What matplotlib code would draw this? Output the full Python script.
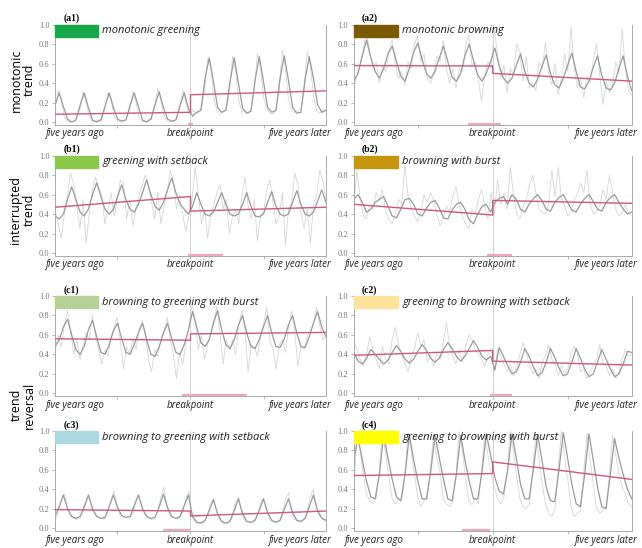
import numpy as np
import matplotlib
matplotlib.use('Agg')
import matplotlib.pyplot as plt
from matplotlib.patches import Rectangle

# smoothed seasonal curves (6 samples per season, 11 seasons)
smooth_a1 = [0.17, 0.30, 0.16, 0.03, 0.00, 0.02, 0.17, 0.30, 0.15, 0.02, 0.00, 0.02,
             0.16, 0.30, 0.15, 0.03, 0.01, 0.02, 0.17, 0.30, 0.16, 0.02, 0.00, 0.03,
             0.18, 0.31, 0.15, 0.03, 0.01, 0.02, 0.17, 0.30, 0.14, 0.06, 0.10, 0.12,
             0.45, 0.66, 0.42, 0.15, 0.10, 0.12, 0.42, 0.66, 0.40, 0.14, 0.09, 0.11,
             0.43, 0.67, 0.42, 0.15, 0.10, 0.12, 0.45, 0.68, 0.43, 0.15, 0.09, 0.10,
             0.44, 0.67, 0.45, 0.18, 0.10, 0.12]
smooth_a2 = [0.42, 0.50, 0.68, 0.84, 0.66, 0.52, 0.45, 0.55, 0.70, 0.78, 0.62, 0.47,
             0.42, 0.55, 0.72, 0.81, 0.64, 0.50, 0.45, 0.52, 0.66, 0.78, 0.62, 0.46,
             0.42, 0.50, 0.68, 0.80, 0.63, 0.48, 0.42, 0.50, 0.62, 0.76, 0.58, 0.45,
             0.40, 0.45, 0.58, 0.70, 0.52, 0.40, 0.36, 0.44, 0.57, 0.69, 0.50, 0.38,
             0.35, 0.45, 0.58, 0.71, 0.52, 0.36, 0.34, 0.42, 0.56, 0.68, 0.48, 0.35,
             0.33, 0.40, 0.55, 0.68, 0.47, 0.32]
smooth_b1 = [0.38, 0.35, 0.40, 0.55, 0.68, 0.55, 0.42, 0.38, 0.45, 0.60, 0.72, 0.58,
             0.45, 0.40, 0.45, 0.58, 0.70, 0.55, 0.45, 0.42, 0.50, 0.62, 0.75, 0.60,
             0.48, 0.44, 0.52, 0.65, 0.77, 0.62, 0.50, 0.45, 0.40, 0.48, 0.62, 0.50,
             0.40, 0.38, 0.42, 0.52, 0.62, 0.50, 0.40, 0.38, 0.40, 0.50, 0.62, 0.48,
             0.38, 0.37, 0.40, 0.52, 0.63, 0.48, 0.40, 0.38, 0.40, 0.52, 0.64, 0.50,
             0.40, 0.38, 0.42, 0.53, 0.65, 0.52]
smooth_b2 = [0.55, 0.60, 0.52, 0.42, 0.45, 0.52, 0.55, 0.58, 0.48, 0.38, 0.36, 0.45,
             0.55, 0.56, 0.50, 0.40, 0.38, 0.46, 0.52, 0.54, 0.46, 0.36, 0.35, 0.44,
             0.50, 0.52, 0.45, 0.34, 0.30, 0.40, 0.48, 0.50, 0.42, 0.52, 0.56, 0.58,
             0.50, 0.60, 0.55, 0.45, 0.42, 0.50, 0.56, 0.60, 0.54, 0.45, 0.43, 0.52,
             0.57, 0.60, 0.52, 0.44, 0.42, 0.50, 0.56, 0.60, 0.53, 0.45, 0.43, 0.52,
             0.57, 0.60, 0.52, 0.45, 0.40, 0.42]
smooth_c1 = [0.48, 0.55, 0.68, 0.76, 0.60, 0.45, 0.40, 0.48, 0.65, 0.75, 0.58, 0.42,
             0.40, 0.50, 0.64, 0.72, 0.56, 0.42, 0.40, 0.50, 0.62, 0.72, 0.55, 0.40,
             0.38, 0.48, 0.62, 0.72, 0.56, 0.42, 0.40, 0.50, 0.65, 0.84, 0.68, 0.52,
             0.48, 0.55, 0.72, 0.85, 0.65, 0.50, 0.46, 0.55, 0.70, 0.80, 0.62, 0.48,
             0.46, 0.55, 0.68, 0.80, 0.62, 0.48, 0.47, 0.56, 0.70, 0.80, 0.62, 0.48,
             0.47, 0.58, 0.72, 0.84, 0.68, 0.58]
smooth_c2 = [0.42, 0.33, 0.30, 0.36, 0.45, 0.40, 0.35, 0.30, 0.34, 0.42, 0.49, 0.43,
             0.35, 0.31, 0.35, 0.43, 0.50, 0.44, 0.36, 0.32, 0.36, 0.45, 0.52, 0.46,
             0.38, 0.33, 0.38, 0.46, 0.54, 0.47, 0.38, 0.34, 0.38, 0.24, 0.47, 0.38,
             0.28, 0.20, 0.22, 0.32, 0.46, 0.38, 0.27, 0.18, 0.21, 0.32, 0.46, 0.37,
             0.26, 0.18, 0.20, 0.32, 0.46, 0.36, 0.25, 0.17, 0.20, 0.32, 0.45, 0.35,
             0.25, 0.17, 0.20, 0.30, 0.43, 0.42]
smooth_c3 = [0.12, 0.22, 0.34, 0.20, 0.12, 0.10, 0.12, 0.22, 0.34, 0.20, 0.12, 0.10,
             0.11, 0.22, 0.34, 0.21, 0.13, 0.11, 0.12, 0.23, 0.34, 0.20, 0.12, 0.10,
             0.11, 0.22, 0.35, 0.21, 0.12, 0.10, 0.12, 0.23, 0.34, 0.12, 0.06, 0.05,
             0.08, 0.18, 0.29, 0.15, 0.07, 0.05, 0.07, 0.18, 0.30, 0.15, 0.07, 0.06,
             0.08, 0.18, 0.30, 0.16, 0.08, 0.06, 0.08, 0.19, 0.30, 0.16, 0.08, 0.07,
             0.10, 0.22, 0.34, 0.18, 0.10, 0.08]
smooth_c4 = [0.70, 0.93, 0.70, 0.48, 0.32, 0.30, 0.55, 0.96, 0.72, 0.50, 0.32, 0.28,
             0.55, 0.96, 0.70, 0.48, 0.30, 0.30, 0.58, 0.95, 0.72, 0.50, 0.30, 0.28,
             0.55, 0.95, 0.70, 0.48, 0.30, 0.30, 0.58, 0.97, 0.75, 0.52, 0.38, 0.35,
             0.60, 0.97, 0.72, 0.45, 0.30, 0.30, 0.60, 0.96, 0.70, 0.42, 0.28, 0.27,
             0.60, 0.98, 0.72, 0.45, 0.25, 0.22, 0.55, 0.97, 0.70, 0.42, 0.22, 0.20,
             0.55, 0.92, 0.72, 0.55, 0.40, 0.30]

# raw observations (8 samples per season)
raw_a1 = [0.15, 0.33, 0.22, 0.05, 0.01, 0.00, 0.01, 0.04, 0.13, 0.31, 0.20, 0.06, 0.00, 0.01, 0.02, 0.03,
          0.14, 0.30, 0.23, 0.05, 0.02, 0.00, 0.01, 0.04, 0.12, 0.31, 0.21, 0.04, 0.01, 0.00, 0.02, 0.03,
          0.15, 0.35, 0.22, 0.06, 0.01, 0.00, 0.01, 0.04, 0.13, 0.33, 0.20, 0.08, 0.12, 0.10, 0.09, 0.14,
          0.32, 0.65, 0.56, 0.24, 0.12, 0.08, 0.11, 0.13, 0.30, 0.67, 0.52, 0.22, 0.10, 0.12, 0.09, 0.14,
          0.33, 0.70, 0.55, 0.25, 0.13, 0.09, 0.08, 0.12, 0.35, 0.74, 0.54, 0.22, 0.11, 0.10, 0.12, 0.14,
          0.34, 0.72, 0.58, 0.27, 0.12, 0.09, 0.12, 0.13]
raw_a2 = [0.35, 0.48, 0.60, 0.75, 0.92, 0.72, 0.55, 0.62, 0.40, 0.58, 0.52, 0.72, 0.85, 0.60, 0.45, 0.52,
          0.38, 0.62, 0.55, 0.80, 0.88, 0.62, 0.70, 0.45, 0.40, 0.48, 0.68, 0.62, 0.84, 0.55, 0.40, 0.55,
          0.35, 0.55, 0.52, 0.78, 0.90, 0.58, 0.62, 0.42, 0.22, 0.48, 0.62, 0.55, 0.95, 0.70, 0.45, 0.58,
          0.30, 0.55, 0.48, 0.80, 0.72, 0.42, 0.68, 0.35, 0.40, 0.32, 0.62, 0.55, 0.82, 0.50, 0.38, 0.60,
          0.28, 0.45, 0.70, 0.52, 0.98, 0.55, 0.35, 0.45, 0.25, 0.48, 0.40, 0.65, 0.80, 0.48, 0.18, 0.42,
          0.30, 0.38, 0.62, 0.50, 0.95, 0.55, 0.32, 0.28]
raw_b1 = [0.45, 0.30, 0.15, 0.40, 0.60, 0.82, 0.70, 0.48, 0.25, 0.55, 0.10, 0.40, 0.65, 0.78, 0.68, 0.60,
          0.30, 0.45, 0.62, 0.38, 0.55, 0.75, 0.72, 0.35, 0.55, 0.28, 0.45, 0.60, 0.70, 0.80, 0.68, 0.52,
          0.35, 0.62, 0.30, 0.48, 0.62, 0.85, 0.75, 0.45, 0.60, 0.40, 0.22, 0.38, 0.55, 0.88, 0.62, 0.30,
          0.45, 0.15, 0.40, 0.50, 0.62, 0.70, 0.45, 0.55, 0.20, 0.38, 0.45, 0.30, 0.58, 0.78, 0.48, 0.35,
          0.55, 0.12, 0.40, 0.42, 0.65, 0.75, 0.52, 0.30, 0.38, 0.62, 0.08, 0.45, 0.52, 0.82, 0.70, 0.40,
          0.25, 0.45, 0.10, 0.50, 0.60, 0.85, 0.75, 0.55]
raw_b2 = [0.48, 0.85, 0.55, 0.38, 0.35, 0.50, 0.45, 0.62, 0.55, 0.65, 0.42, 0.35, 0.30, 0.40, 0.55, 0.50,
          0.90, 0.58, 0.45, 0.38, 0.32, 0.42, 0.60, 0.52, 0.62, 0.55, 0.40, 0.28, 0.35, 0.48, 0.42, 0.58,
          0.68, 0.50, 0.38, 0.30, 0.25, 0.45, 0.40, 0.55, 0.65, 0.48, 0.35, 0.62, 0.40, 0.75, 0.50, 0.62,
          0.45, 0.88, 0.60, 0.40, 0.35, 0.48, 0.55, 0.70, 0.80, 0.62, 0.45, 0.42, 0.40, 0.50, 0.85, 0.58,
          0.88, 0.55, 0.48, 0.38, 0.42, 0.55, 0.60, 0.72, 0.62, 0.85, 0.50, 0.40, 0.42, 0.48, 0.65, 0.55,
          0.80, 0.62, 0.45, 0.38, 0.42, 0.50, 0.40, 0.38]
raw_c1 = [0.42, 0.60, 0.48, 0.70, 0.85, 0.65, 0.40, 0.55, 0.35, 0.48, 0.62, 0.55, 0.80, 0.58, 0.45, 0.30,
          0.45, 0.38, 0.58, 0.68, 0.78, 0.52, 0.25, 0.48, 0.40, 0.55, 0.45, 0.65, 0.75, 0.62, 0.35, 0.22,
          0.45, 0.38, 0.55, 0.62, 0.78, 0.55, 0.40, 0.15, 0.42, 0.30, 0.50, 0.68, 0.92, 0.75, 0.45, 0.60,
          0.35, 0.50, 0.62, 0.75, 0.90, 0.60, 0.30, 0.55, 0.45, 0.55, 0.40, 0.70, 0.85, 0.65, 0.22, 0.50,
          0.48, 0.38, 0.60, 0.72, 0.88, 0.55, 0.45, 0.25, 0.50, 0.55, 0.42, 0.68, 0.85, 0.62, 0.28, 0.48,
          0.45, 0.58, 0.65, 0.72, 0.88, 0.70, 0.55, 0.60]
raw_c2 = [0.55, 0.45, 0.35, 0.28, 0.40, 0.58, 0.45, 0.35, 0.25, 0.48, 0.35, 0.30, 0.55, 0.68, 0.50, 0.40,
          0.30, 0.22, 0.38, 0.45, 0.62, 0.48, 0.55, 0.32, 0.40, 0.28, 0.42, 0.35, 0.52, 0.72, 0.50, 0.38,
          0.30, 0.45, 0.32, 0.48, 0.60, 0.55, 0.45, 0.40, 0.35, 0.28, 0.40, 0.45, 0.22, 0.45, 0.38, 0.30,
          0.22, 0.30, 0.18, 0.28, 0.40, 0.52, 0.40, 0.28, 0.20, 0.25, 0.15, 0.32, 0.38, 0.50, 0.35, 0.30,
          0.18, 0.28, 0.20, 0.25, 0.42, 0.48, 0.42, 0.22, 0.25, 0.15, 0.22, 0.30, 0.35, 0.50, 0.30, 0.28,
          0.18, 0.25, 0.15, 0.22, 0.35, 0.45, 0.38, 0.40]
raw_c3 = [0.08, 0.15, 0.28, 0.35, 0.20, 0.12, 0.10, 0.09, 0.10, 0.16, 0.27, 0.33, 0.18, 0.13, 0.11, 0.10,
          0.09, 0.18, 0.30, 0.38, 0.22, 0.12, 0.10, 0.11, 0.10, 0.15, 0.28, 0.34, 0.19, 0.13, 0.10, 0.09,
          0.09, 0.17, 0.32, 0.42, 0.21, 0.12, 0.11, 0.10, 0.10, 0.16, 0.30, 0.38, 0.12, 0.07, 0.05, 0.06,
          0.06, 0.14, 0.26, 0.30, 0.16, 0.08, 0.05, 0.05, 0.06, 0.15, 0.27, 0.32, 0.15, 0.07, 0.06, 0.05,
          0.07, 0.14, 0.26, 0.31, 0.17, 0.08, 0.06, 0.06, 0.07, 0.16, 0.30, 0.36, 0.16, 0.09, 0.07, 0.06,
          0.08, 0.18, 0.32, 0.40, 0.20, 0.12, 0.09, 0.08]
raw_c4 = [0.35, 0.98, 0.80, 0.55, 0.35, 0.28, 0.25, 0.30, 0.60, 1.00, 0.75, 0.52, 0.30, 0.25, 0.30, 0.28,
          0.55, 0.98, 0.78, 0.55, 0.32, 0.22, 0.28, 0.30, 0.62, 0.95, 0.72, 0.58, 0.30, 0.25, 0.22, 0.28,
          0.55, 0.99, 0.80, 0.50, 0.28, 0.24, 0.30, 0.25, 0.60, 0.96, 0.75, 0.55, 0.42, 0.30, 0.25, 0.32,
          0.55, 1.00, 0.78, 0.52, 0.30, 0.22, 0.20, 0.25, 0.60, 0.98, 0.70, 0.45, 0.25, 0.15, 0.12, 0.20,
          0.62, 1.00, 0.72, 0.50, 0.22, 0.12, 0.15, 0.18, 0.58, 0.97, 0.70, 0.45, 0.20, 0.15, 0.18, 0.22,
          0.55, 0.95, 0.75, 0.55, 0.42, 0.35, 0.25, 0.22]

# fitted trend: start / end before breakpoint, start / end after breakpoint
trend_a1 = [0.08, 0.10, 0.28, 0.32]
trend_a2 = [0.58, 0.575, 0.50, 0.42]
trend_b1 = [0.47, 0.58, 0.43, 0.47]
trend_b2 = [0.50, 0.39, 0.54, 0.51]
trend_c1 = [0.56, 0.545, 0.61, 0.625]
trend_c2 = [0.39, 0.44, 0.33, 0.29]
trend_c3 = [0.19, 0.175, 0.125, 0.175]
trend_c4 = [0.54, 0.56, 0.68, 0.50]

# breakpoint confidence interval (fraction of the time span)
ci_a1 = [0.49, 0.51]
ci_a2 = [0.41, 0.53]
ci_b1 = [0.49, 0.62]
ci_b2 = [0.48, 0.57]
ci_c1 = [0.47, 0.71]
ci_c2 = [0.49, 0.57]
ci_c3 = [0.40, 0.50]
ci_c4 = [0.39, 0.49]

tags = ['(a1)', '(a2)', '(b1)', '(b2)', '(c1)', '(c2)', '(c3)', '(c4)']
titles = ['monotonic greening', 'monotonic browning', 'greening with setback', 'browning with burst',
          'browning to greening with burst', 'greening to browning with setback',
          'browning to greening with setback', 'greening to browning with burst']
box_colors = ['#16a74a', '#7b5a06', '#8cc84b', '#c8960c', '#b6d195', '#fde39a', '#add8e2', '#ffff00']
row_names = ['monotonic\ntrend', 'interrupted\ntrend', 'trend\nreversal']
row_y = [80, 210, 405]

smooths = [smooth_a1, smooth_a2, smooth_b1, smooth_b2, smooth_c1, smooth_c2, smooth_c3, smooth_c4]
raws = [raw_a1, raw_a2, raw_b1, raw_b2, raw_c1, raw_c2, raw_c3, raw_c4]
trends = [trend_a1, trend_a2, trend_b1, trend_b2, trend_c1, trend_c2, trend_c3, trend_c4]
cis = [ci_a1, ci_a2, ci_b1, ci_b2, ci_c1, ci_c2, ci_c3, ci_c4]

fig = plt.figure(figsize=(6.42, 5.48), dpi=100)

lefts = [0.0857, 0.551]
widths = [0.422, 0.433]
bottoms = [0.772, 0.533, 0.277, 0.031]
height = 0.183

for i in range(8):
    r, c = i // 2, i % 2
    ax = fig.add_axes([lefts[c], bottoms[r], widths[c], height])
    xs = np.linspace(0, 1, len(smooths[i]))
    xr = np.linspace(0, 1, len(raws[i]))
    ax.plot(xr, raws[i], color='#d6d6d6', lw=0.6, zorder=1)
    ax.plot(xs, smooths[i], color='#9a9a9a', lw=0.9, zorder=2)
    t = trends[i]
    ax.plot([0, 0.5, 0.5, 1], [t[0], t[1], t[2], t[3]], color='#d05878', lw=1.0, zorder=3)
    ax.axvline(0.5, color='#cccccc', lw=0.6, zorder=0)
    ax.plot(cis[i], [-0.02, -0.02], color='#f3a7ba', lw=1.6, zorder=3, solid_capstyle='butt')

    ax.add_patch(Rectangle((0, 0.875), 0.16, 0.125, color=box_colors[i], zorder=4, clip_on=False))
    ax.text(0.175, 0.935, titles[i], fontsize=8, style='italic', family='Open Sans',
            color='#222222', va='center', ha='left')
    ax.text(0.03, 1.06, tags[i], fontsize=7, weight='bold', family='Liberation Serif',
            transform=ax.transAxes, va='center', ha='left')

    ax.set_xlim(0, 1)
    ax.set_ylim(-0.03, 1.0)
    ax.set_yticks([0.0, 0.2, 0.4, 0.6, 0.8, 1.0])
    ax.set_yticklabels(['0.0', '0.2', '0.4', '0.6', '0.8', '1.0'], fontsize=6,
                       family='Liberation Serif', color='#777777')
    ax.set_xticks([0.23, 0.5, 0.77])
    ax.set_xticklabels([])
    ax.tick_params(length=2, width=0.5, color='#999999', pad=2)
    ax.spines['top'].set_visible(False)
    for s in ['left', 'bottom', 'right']:
        ax.spines[s].set_color('#aaaaaa')
        ax.spines[s].set_linewidth(0.7)

    for xp, lab, ha in [(-0.035, 'five years ago', 'left'), (0.5, 'breakpoint', 'center'),
                        (1.02, 'five years later', 'right')]:
        ax.text(xp, -0.09, lab, transform=ax.transAxes, fontsize=7, style='italic',
                family='Open Sans', ha=ha, va='center', color='#222222')

for name, yp in zip(row_names, row_y):
    fig.text(0.035, 1 - yp / 548, name, rotation=90, ha='center', va='center',
             fontsize=9, family='Open Sans', linespacing=1.0)

fig.savefig('out.png', dpi=100)
